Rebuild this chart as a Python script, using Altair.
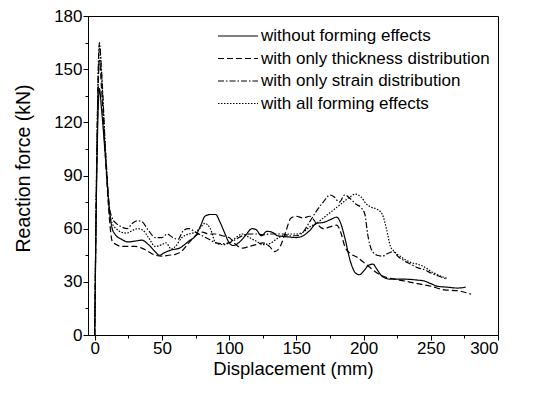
import altair as alt
import pandas as pd

series_names = [
    "without forming effects",
    "with only thickness distribution",
    "with only strain distribution",
    "with all forming effects",
]

x_without = [0, 1.5, 3.5, 5, 8, 11, 13, 15, 20, 25, 30, 35, 40, 45, 48, 52, 57, 63, 70, 75, 79, 82, 86, 90, 93, 97, 100, 103, 107, 112, 117, 120, 124, 128, 132, 136, 142, 150, 155, 160, 165, 170, 175, 180, 183, 186, 190, 194, 197, 200, 204, 207, 210, 214, 220, 230, 240, 245, 250, 255, 262, 270, 276]
y_without = [0, 90, 139, 128, 100, 70, 60, 57, 54, 52.5, 53, 53.5, 51, 47, 45, 46.5, 48, 49, 53, 56, 62, 67, 68, 68, 64, 57, 52, 50.5, 52, 56, 60, 59.5, 56, 58.5, 58, 56, 55.5, 55, 56, 59, 63, 63.5, 65, 66.5, 63, 55, 42, 35, 34, 36, 39.5, 40, 37, 33, 31.5, 31.5, 31, 30.5, 29, 27.5, 27, 26.5, 27]

x_thick = [0, 1.5, 3.5, 5, 8, 11, 13, 16, 20, 25, 30, 35, 40, 45, 50, 55, 60, 65, 70, 75, 80, 85, 90, 95, 100, 105, 110, 115, 120, 125, 130, 134, 138, 142, 146, 150, 155, 160, 165, 170, 175, 180, 183, 186, 190, 195, 200, 205, 210, 215, 220, 230, 240, 250, 260, 270, 280]
y_thick = [0, 95, 155, 140, 100, 65, 53, 51, 50, 50, 50, 49, 47, 45, 44.5, 45, 45.5, 47.5, 52, 56, 58, 57, 57, 56, 55, 51, 49, 50, 51, 52, 50, 47, 50, 58, 66, 67, 66, 67, 63, 60, 61, 62, 58, 50, 46, 44, 41, 38, 35, 33, 32, 30.5, 29, 27.5, 25.5, 25, 23]

x_strain = [0, 1.5, 3.5, 5, 8, 11, 13, 16, 20, 24, 28, 32, 35, 40, 45, 50, 54, 58, 62, 66, 70, 75, 80, 85, 90, 95, 100, 105, 110, 115, 120, 125, 130, 135, 140, 145, 150, 155, 160, 165, 170, 175, 178, 182, 186, 190, 194, 198, 201, 203, 206, 210, 214, 218, 222, 226, 230, 235, 240, 245, 250, 255, 260, 262]
y_strain = [0, 100, 165, 150, 105, 72, 66, 63, 61, 60, 63, 64.5, 64, 59, 55, 55, 57, 55, 54, 59, 60, 58, 56, 54, 52, 51.5, 52, 54, 56, 57, 57, 56.5, 57, 57, 57, 56, 56, 58, 64, 70, 75, 79, 78, 75, 79, 77, 74, 72, 68, 57, 48, 45, 44.5, 46, 47, 44, 42, 40, 38, 37, 35, 33.5, 32, 31.5]

x_all = [0, 1.5, 3.5, 5, 8, 11, 13, 16, 20, 24, 28, 32, 36, 40, 45, 50, 53, 57, 60, 65, 70, 75, 78, 82, 86, 90, 95, 100, 105, 110, 115, 120, 125, 130, 135, 140, 145, 150, 155, 160, 165, 170, 175, 180, 185, 190, 194, 198, 202, 206, 210, 214, 217, 220, 223, 228, 235, 240, 245, 250, 255, 262]
y_all = [0, 98, 163, 148, 103, 70, 63, 60, 58, 57.5, 59, 60, 59, 55, 50, 51, 52, 48.5, 50, 55, 57, 58, 60, 63, 60, 52, 51, 52, 55, 57, 55, 53, 51, 51.5, 54, 56, 57, 57, 58, 61, 63, 66, 69, 72, 75, 78, 79.5, 78, 74, 72, 71, 68, 60, 50, 47, 44, 41, 40, 38.5, 36, 34, 32]

x_ticks = [0, 25, 50, 75, 100, 125, 150, 175, 200, 225, 250, 275, 300]
y_ticks = [0, 15, 30, 45, 60, 75, 90, 105, 120, 135, 150, 165, 180]

rows = []
for name, xs, ys in zip(series_names,
                        [x_without, x_thick, x_strain, x_all],
                        [y_without, y_thick, y_strain, y_all]):
    for i, (xv, yv) in enumerate(zip(xs, ys)):
        rows.append({"series": name, "x": xv, "y": yv, "i": i})
df = pd.DataFrame(rows)

FONT = "Liberation Sans"

chart = alt.Chart(df).mark_line(strokeWidth=1.2, color="black", interpolate="monotone", clip=True).encode(
    x=alt.X("x:Q", scale=alt.Scale(domain=[-5, 300], nice=False, zero=False),
            axis=alt.Axis(values=x_ticks, title="Displacement (mm)", grid=False,
                          labelExpr="datum.value % 50 === 0 ? datum.label : ''",
                          tickSize={"condition": {"test": "datum.value % 50 === 0", "value": 5}, "value": 3},
                          labelPadding=0, titlePadding=3, titleFontSize=18.5)),
    y=alt.Y("y:Q", scale=alt.Scale(domain=[0, 180], nice=False),
            axis=alt.Axis(values=y_ticks, title="Reaction force (kN)", grid=False,
                          labelExpr="datum.value % 30 === 0 ? datum.label : ''",
                          tickSize={"condition": {"test": "datum.value % 30 === 0", "value": 5}, "value": 3},
                          labelPadding=1, titlePadding=20, titleFontSize=19.5, titleY=152)),
    strokeDash=alt.StrokeDash("series:N",
                              scale=alt.Scale(domain=series_names,
                                              range=[[1, 0], [6, 3], [6, 2, 1.5, 2], [1.5, 1.5]]),
                              legend=alt.Legend(title=None, orient="none", legendX=139, legendY=9,
                                                symbolType="M-2,0H2", symbolSize=400,
                                                symbolStrokeColor="black", symbolStrokeWidth=1.1,
                                                labelFontSize=17, labelFont=FONT, labelColor="black",
                                                labelOffset=12, rowPadding=3.5, padding=0,
                                                labelLimit=400)),
    order="i:Q",
).properties(
    width=410, height=319,
    autosize=alt.AutoSizeParams(type="none"),
    padding={"left": 80, "top": 8, "right": 41, "bottom": 55},
).configure_view(
    stroke="black", strokeWidth=1
).configure_axis(
    domainColor="black", tickColor="black", labelColor="black", titleColor="black",
    labelFont=FONT, titleFont=FONT, labelFontSize=17,
    titleFontWeight="normal", domainWidth=1, tickWidth=1
)

chart.save("out.html", embed_options={"renderer": "svg", "actions": False})
